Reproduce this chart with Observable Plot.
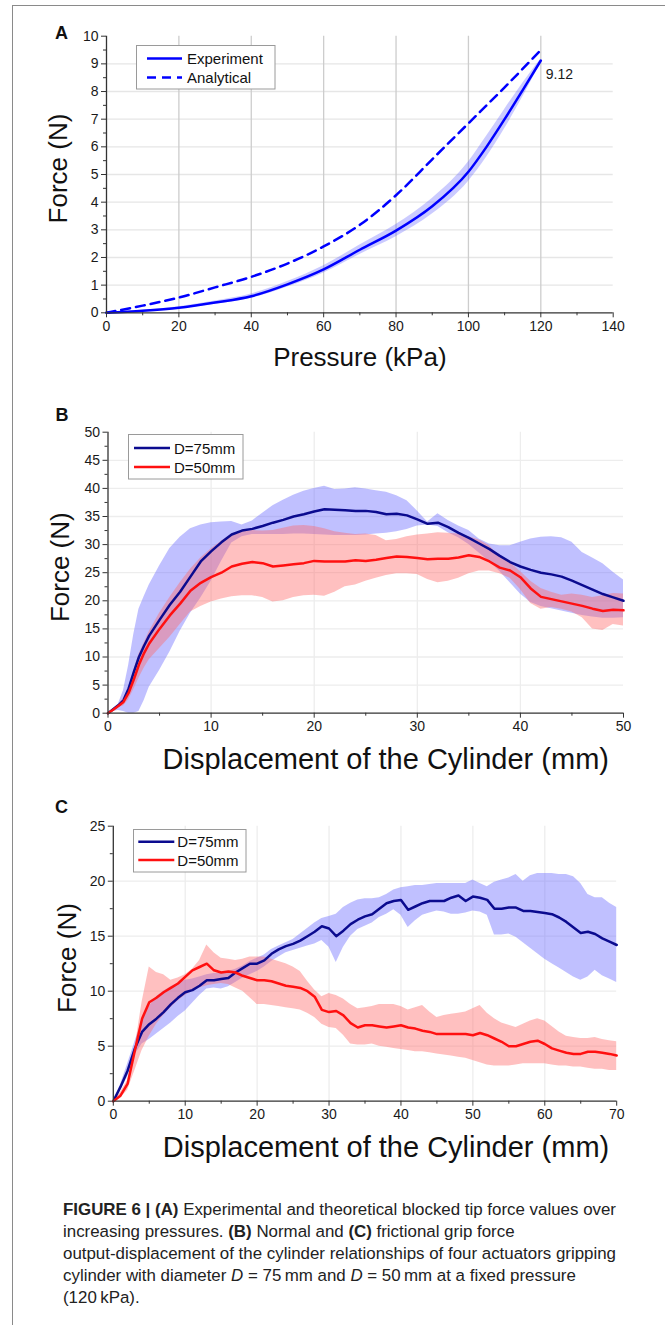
<!DOCTYPE html>
<html><head><meta charset="utf-8">
<script src="https://cdn.jsdelivr.net/npm/d3@7"></script>
<script src="https://cdn.jsdelivr.net/npm/@observablehq/plot@0.6"></script>
<style>
body{margin:0;background:#fff;}
#fig{position:relative;width:665px;height:1325px;overflow:hidden;background:#fff;font-family:"Liberation Sans",Arial,sans-serif;}
.panel{position:absolute;left:0;}
.frame{position:absolute;left:12px;top:5px;width:800px;height:1500px;border-left:1.5px solid #8a8a8a;border-top:1.5px solid #8a8a8a;}
.legend{position:absolute;}
#cap{position:absolute;left:63px;top:1199px;font-size:16.9px;line-height:22px;color:#222;white-space:nowrap;font-family:"Liberation Sans",Arial,sans-serif;}
</style></head>
<body>
<div id="fig">
  <div class="frame"></div>
  <div id="pA" class="panel" style="top:0"></div>
  <div id="pB" class="panel" style="top:380px"></div>
  <div id="pC" class="panel" style="top:790px"></div>

  <svg class="legend" style="left:136px;top:44.7px" width="140" height="45">
    <rect x="0.5" y="0.5" width="138.5" height="43.5" fill="#fff" stroke="#9a9a9a"/>
    <line x1="11" x2="46" y1="13.5" y2="13.5" stroke="#0000ff" stroke-width="2.5"/>
    <text x="51" y="13.5" dominant-baseline="central" font-size="15" fill="#111">Experiment</text>
    <line x1="11" x2="46" y1="32.5" y2="32.5" stroke="#0000ff" stroke-width="2.5" stroke-dasharray="9,6"/>
    <text x="51" y="32.5" dominant-baseline="central" font-size="15" fill="#111">Analytical</text>
  </svg>
  <svg class="legend" style="left:128px;top:434px" width="116" height="46">
    <rect x="0.5" y="0.5" width="114.5" height="44.5" fill="#fff" stroke="#9a9a9a"/>
    <line x1="6" x2="42" y1="14" y2="14" stroke="#0b0b8f" stroke-width="2.5"/>
    <text x="46" y="14" dominant-baseline="central" font-size="15" fill="#111">D=75mm</text>
    <line x1="6" x2="42" y1="33" y2="33" stroke="#ff1010" stroke-width="2.5"/>
    <text x="46" y="33" dominant-baseline="central" font-size="15" fill="#111">D=50mm</text>
  </svg>
  <svg class="legend" style="left:132.7px;top:829px" width="114" height="44">
    <rect x="0.5" y="0.5" width="112.5" height="42.5" fill="#fff" stroke="#9a9a9a"/>
    <line x1="5.3" x2="41.3" y1="12.7" y2="12.7" stroke="#0b0b8f" stroke-width="2.5"/>
    <text x="44.3" y="12.7" dominant-baseline="central" font-size="15" fill="#111">D=75mm</text>
    <line x1="5.3" x2="41.3" y1="31" y2="31" stroke="#ff1010" stroke-width="2.5"/>
    <text x="44.3" y="31" dominant-baseline="central" font-size="15" fill="#111">D=50mm</text>
  </svg>

  <div id="cap">
<b>FIGURE 6 | (A)</b> Experimental and theoretical blocked tip force values over<br>
increasing pressures. <b>(B)</b> Normal and <b>(C)</b> frictional grip force<br>
output-displacement of the cylinder relationships of four actuators gripping<br>
cylinder with diameter <i>D</i> = 75&#8201;mm and <i>D</i> = 50&#8201;mm at a fixed pressure<br>
(120&#8201;kPa).
  </div>
</div>
<script>
// ---------- Panel A data ----------
const pressure   = [0,10,20,30,40,50,60,70,80,90,100,105,110,115,120];
const experiment = [0,0.07,0.18,0.37,0.6,1.03,1.57,2.28,2.97,3.85,5.1,6.0,7.0,8.05,9.12];
const expLo      = [0,0.05,0.14,0.31,0.52,0.93,1.44,2.11,2.75,3.57,4.75,5.62,6.65,7.8,9.06];
const expHi      = [0,0.09,0.22,0.43,0.68,1.13,1.70,2.45,3.19,4.13,5.45,6.38,7.35,8.3,9.18];
const pressureAn = [0,10,20,30,40,50,60,70,80,90,100,110,120];
const analytical = [0,0.26,0.55,0.92,1.3,1.78,2.4,3.18,4.25,5.55,6.85,8.15,9.5];
const peakLabel  = [[120, 9.12]];

// ---------- Panel B data (normal grip force) ----------
const bX = [0,0.5,1,1.5,2,2.5,3,3.5,
  4,5,6,7,8,9,10,11,12,13,14,15,16,17,18,19,20,21,22,23,24,25,26,27,28,29,30,31,32,33,34,35,36,37,38,39,40,41,42,43,44,45,46,47,48,49,50];
const bBlue = [0,0.7,1.4,2.3,4.4,7.3,10.0,12.0,
  13.8,16.6,19.3,21.6,24.3,27.0,28.8,30.4,31.8,32.5,
  32.8,33.3,33.9,34.4,35.0,35.4,35.9,36.3,36.2,36.1,
  36.0,36.0,35.8,35.4,35.5,35.2,34.5,33.7,33.9,33.1,
  32.1,31.2,30.2,29.2,28.0,26.9,26.1,25.5,25.0,24.7,
  24.3,23.6,22.8,22.0,21.2,20.6,20.0];
const bBlueHi = [0,0.8,1.6,4.0,8.5,14.0,18.5,20.7,
  22.8,26.2,29.3,31.3,32.8,33.5,33.9,34.0,34.1,33.5,
  34.2,35.6,36.9,37.9,38.8,39.5,40.0,40.4,39.8,39.9,
  40.1,39.9,39.6,39.3,38.7,37.8,36.0,34.0,35.5,34.3,
  33.3,32.5,31.0,30.1,29.8,29.8,30.4,31.0,31.3,31.4,
  31.2,30.4,28.6,27.6,26.6,25.1,23.7];
const bBlueLo = [0,0.3,0.5,0.3,0,0,0.3,2.2,
  4.6,7.6,10.9,14.6,17.8,20.5,23.5,27.0,30.3,31.4,
  31.8,31.8,31.8,31.8,31.9,31.9,31.8,31.7,31.6,31.6,
  31.6,31.7,31.9,32.0,32.3,32.7,33.3,33.5,33.2,32.1,
  31.2,30.0,28.5,27.0,25.2,23.2,21.2,19.7,19.0,18.6,
  18.2,17.8,17.4,17.1,16.9,16.9,17.0];
const bRed = [0,0.6,1.3,2.0,3.6,6.0,8.6,10.7,
  12.4,15.0,17.4,19.5,21.8,23.2,24.2,25.0,26.1,26.6,
  26.9,26.7,26.1,26.3,26.5,26.7,27.1,27.0,27.0,27.0,
  27.2,27.1,27.3,27.6,27.9,27.8,27.6,27.4,27.5,27.5,
  27.7,28.1,27.8,27.0,25.9,25.4,24.2,22.2,20.7,20.3,
  19.9,19.5,19.1,18.6,18.2,18.4,18.3];
const bRedHi = [0,0.7,1.5,2.6,4.5,7.5,10.5,12.5,
  14.5,17.8,20.6,23.2,25.6,27.6,29.2,30.6,31.8,32.3,
  32.5,32.4,32.5,32.9,33.3,33.4,33.2,32.8,32.3,32.0,
  31.8,31.9,31.6,30.7,30.9,31.4,31.7,31.9,32.1,32.0,
  31.9,31.4,30.8,29.8,27.8,26.8,25.2,23.5,22.2,21.5,
  21.0,21.2,21.0,20.6,20.9,21.3,21.2];
const bRedLo = [0,0.4,1.0,1.3,2.4,4.2,6.2,8.0,
  9.5,11.5,13.5,15.8,18.0,19.0,19.8,20.3,20.7,20.9,
  20.9,20.6,19.8,20.0,20.6,20.9,21.0,20.8,21.5,22.5,
  22.8,23.5,24.0,24.5,24.8,24.8,24.7,23.8,23.2,23.5,
  24.0,24.8,25.3,25.3,24.8,24.0,22.0,19.5,18.5,18.8,
  18.5,18.0,17.0,15.0,14.7,15.8,15.5];

// ---------- Panel C data (frictional grip force) ----------
const cX = d3.range(0, 71);
const cBlue = [0,1.3,2.8,4.8,6.3,7.0,7.5,8.1,8.8,9.4,
  9.9,10.1,10.5,11.0,11.0,11.1,11.2,11.7,12.1,12.5,
  12.5,12.8,13.4,13.8,14.1,14.3,14.6,15.0,15.4,15.9,
  15.7,15.0,15.5,16.1,16.5,16.8,17.0,17.5,18.0,18.2,
  18.3,17.4,17.7,18.0,18.2,18.2,18.2,18.5,18.7,18.2,
  18.6,18.5,18.3,17.5,17.5,17.6,17.6,17.3,17.3,17.2,
  17.1,17.0,16.7,16.3,15.8,15.3,15.4,15.2,14.8,14.5,
  14.2];
const cBlueHi = [0,1.5,3.4,5.4,7.3,8.6,9.5,10.0,10.4,10.7,
  11.0,11.1,11.3,11.5,11.6,11.6,11.8,12.0,12.3,12.7,
  13.0,13.3,13.8,14.1,14.4,14.7,15.2,15.7,16.2,16.6,
  16.8,17.0,17.6,18.0,18.3,18.4,18.4,18.5,18.8,19.2,
  19.4,19.5,19.6,19.6,19.7,19.8,19.8,19.8,19.8,19.8,
  20.1,19.8,19.5,19.9,20.1,20.3,20.6,20.0,20.5,20.7,
  20.7,20.7,20.6,20.6,20.4,19.8,18.8,18.5,18.5,18.0,
  17.6];
const cBlueLo = [0,1.0,2.2,4.2,5.2,5.6,6.1,6.6,7.1,7.7,
  8.2,8.9,9.6,10.2,10.3,10.2,10.4,10.8,11.2,11.5,
  11.8,12.2,12.7,13.1,13.5,13.7,13.9,14.1,14.3,14.6,
  14.0,12.6,14.0,15.0,15.6,15.9,16.2,16.7,17.0,17.4,
  16.9,15.8,16.4,16.9,17.1,17.3,17.2,17.0,17.0,17.1,
  17.3,17.2,16.9,15.1,15.1,15.2,14.9,14.4,13.9,13.4,
  12.9,12.5,12.1,11.7,11.3,11.0,11.3,11.9,11.4,11.1,
  10.8];
const cRed = [0,0.5,1.6,4.6,7.5,9.0,9.4,9.9,10.3,10.7,
  11.3,11.9,12.2,12.5,11.9,11.7,11.8,11.7,11.4,11.2,
  11.0,11.0,10.9,10.7,10.5,10.4,10.3,10.0,9.5,8.3,
  8.1,8.2,7.8,7.1,6.7,6.9,6.9,6.8,6.7,6.8,
  6.9,6.7,6.6,6.4,6.3,6.1,6.1,6.1,6.1,6.1,
  6.0,6.2,6.0,5.7,5.4,5.0,5.0,5.2,5.4,5.5,
  5.2,4.8,4.6,4.4,4.3,4.3,4.5,4.5,4.4,4.3,
  4.15];
const cRedHi = [0,0.8,1.9,4.8,9.0,12.2,11.7,11.5,11.0,11.2,
  11.5,12.0,12.8,14.2,13.5,13.0,12.9,12.8,12.9,13.1,
  13.1,13.1,12.9,12.7,12.5,12.2,11.8,10.9,10.1,9.5,
  9.8,9.6,9.3,8.8,8.4,8.5,8.6,8.8,8.8,8.8,
  8.6,8.3,8.5,8.7,8.1,7.6,7.8,7.9,8.0,8.1,
  8.4,8.7,8.0,7.5,7.1,6.9,6.7,7.0,7.3,7.5,
  7.3,6.8,6.3,5.9,5.8,5.7,5.7,5.8,5.6,5.5,
  5.4];
const cRedLo = [0,0.3,1.0,2.8,4.6,5.9,7.0,7.8,8.5,9.1,
  9.6,10.0,10.3,10.5,10.6,10.7,10.6,10.3,10.0,9.4,
  8.8,8.8,8.7,8.6,8.5,8.4,8.3,8.0,7.6,7.0,
  6.7,6.6,6.0,5.2,5.1,5.1,5.2,5.0,4.9,4.8,
  4.7,4.6,4.5,4.5,4.4,4.3,4.2,4.1,4.0,3.9,
  3.7,3.5,3.3,3.2,3.2,3.2,3.3,3.4,3.4,3.4,
  3.4,3.3,3.2,3.2,3.1,3.1,3.0,2.9,2.9,2.8,
  2.8];

// ---------- helpers ----------
const FONT = '"Liberation Sans", Arial, sans-serif';
const rows = (xs, ...cols) => xs.map((x, i) => ({x, v: cols.map(c => c[i])}));

function axisMarks({xMajor, xMinor, yMajor, yMinor}) {
  return [
    Plot.axisX({ticks: xMajor, tickSize: 5, tickPadding: 3, label: null, stroke: "#333", fill: "#1a1a1a"}),
    Plot.axisX({ticks: xMinor, tickSize: 3, tickFormat: () => "", label: null, stroke: "#333"}),
    Plot.axisY({ticks: yMajor, tickSize: 5, tickPadding: 3, label: null, stroke: "#333", fill: "#1a1a1a"}),
    Plot.axisY({ticks: yMinor, tickSize: 3, tickFormat: () => "", label: null, stroke: "#333"}),
    Plot.ruleX([0], {stroke: "#333", strokeWidth: 1.3}),
    Plot.ruleY([0], {stroke: "#333", strokeWidth: 1.3})
  ];
}
const title = (t, o) => Plot.text([t], {text: d => d, fill: "#111", lineAnchor: "middle", textAnchor: "middle", ...o});
const style = {fontFamily: FONT, fontSize: "14px", color: "#1a1a1a", background: "transparent", overflow: "visible"};

// ---------- Panel A ----------
const aExp = rows(pressure, experiment, expLo, expHi);
const aAn = rows(pressureAn, analytical);
const plotA = Plot.plot({
  width: 665, height: 380,
  marginLeft: 106, marginRight: 52.3, marginTop: 35.7, marginBottom: 67.7,
  x: {domain: [0, 140], label: null},
  y: {domain: [0, 10], label: null},
  style,
  marks: [
    Plot.ruleY(d3.range(1, 10), {stroke: "#e6e6e6", strokeWidth: 1.3}),
    Plot.ruleX(d3.range(20, 121, 20), {stroke: "#cdcdcd", strokeWidth: 1.3}),
    Plot.areaY(aExp, {x: "x", y1: d => d.v[1], y2: d => d.v[2], fill: "#4646ff", fillOpacity: 0.28, curve: "monotone-x"}),
    Plot.lineY(aAn, {x: "x", y: d => d.v[0], stroke: "#0000ff", strokeWidth: 2.5, strokeDasharray: "9,6", curve: "monotone-x"}),
    Plot.lineY(aExp, {x: "x", y: d => d.v[0], stroke: "#0000ff", strokeWidth: 2.5, curve: "monotone-x"}),
    Plot.text(peakLabel, {x: d => d[0], y: d => d[1], text: d => d[1].toFixed(2), dx: 5, dy: 14, textAnchor: "start", fontSize: 14, fill: "#1a1a1a"}),
    ...axisMarks({xMajor: d3.range(0, 141, 20), xMinor: d3.range(10, 140, 20), yMajor: d3.range(0, 11), yMinor: d3.range(0.5, 10, 1)}),
    title("Pressure (kPa)", {frameAnchor: "bottom", dy: 44.5, fontSize: 26}),
    title("Force (N)", {frameAnchor: "left", rotate: -90, dx: -47.5, dy: -6, fontSize: 26}),
    title("A", {frameAnchor: "top-left", dx: -45, dy: -3, fontSize: 18, fontWeight: "bold"})
  ]
});
document.getElementById("pA").append(plotA);

// ---------- Panel B ----------
const bBlueRows = rows(bX, bBlue, bBlueLo, bBlueHi);
const bRedRows = rows(bX, bRed, bRedLo, bRedHi);
const plotB = Plot.plot({
  width: 665, height: 410,
  marginLeft: 107.5, marginRight: 42, marginTop: 51.7, marginBottom: 77.3,
  x: {domain: [0, 50], label: null},
  y: {domain: [0, 50], label: null},
  style,
  marks: [
    Plot.ruleY(d3.range(5, 50, 5), {stroke: "#ededed", strokeWidth: 1.3}),
    Plot.ruleX(d3.range(10, 50, 10), {stroke: "#ededed", strokeWidth: 1.3}),
    Plot.areaY(bBlueRows, {x: "x", y1: d => d.v[1], y2: d => d.v[2], fill: "#6a6aff", fillOpacity: 0.42}),
    Plot.areaY(bRedRows, {x: "x", y1: d => d.v[1], y2: d => d.v[2], fill: "#ff6a6a", fillOpacity: 0.42}),
    Plot.lineY(bBlueRows, {x: "x", y: d => d.v[0], stroke: "#0b0b8f", strokeWidth: 2.5}),
    Plot.lineY(bRedRows, {x: "x", y: d => d.v[0], stroke: "#ff1010", strokeWidth: 2.5}),
    ...axisMarks({xMajor: d3.range(0, 51, 10), xMinor: d3.range(5, 50, 10), yMajor: d3.range(0, 51, 5), yMinor: d3.range(2.5, 50, 5)}),
    title("Displacement of the Cylinder (mm)", {frameAnchor: "bottom", dx: 20, dy: 46.3, fontSize: 29}),
    title("Force (N)", {frameAnchor: "left", rotate: -90, dx: -47, dy: -5.5, fontSize: 26}),
    title("B", {frameAnchor: "top-left", dx: -46, dy: -16.7, fontSize: 18, fontWeight: "bold"})
  ]
});
document.getElementById("pB").append(plotB);

// ---------- Panel C ----------
const cBlueRows = rows(cX, cBlue, cBlueLo, cBlueHi);
const cRedRows = rows(cX, cRed, cRedLo, cRedHi);
const plotC = Plot.plot({
  width: 665, height: 400,
  marginLeft: 112.8, marginRight: 48.8, marginTop: 35.7, marginBottom: 89.3,
  x: {domain: [0, 70], label: null},
  y: {domain: [0, 25], label: null},
  style,
  marks: [
    Plot.ruleY(d3.range(5, 25, 5), {stroke: "#ededed", strokeWidth: 1.3}),
    Plot.ruleX(d3.range(10, 70, 10), {stroke: "#ededed", strokeWidth: 1.3}),
    Plot.areaY(cBlueRows, {x: "x", y1: d => d.v[1], y2: d => d.v[2], fill: "#6a6aff", fillOpacity: 0.42}),
    Plot.areaY(cRedRows, {x: "x", y1: d => d.v[1], y2: d => d.v[2], fill: "#ff6a6a", fillOpacity: 0.42}),
    Plot.lineY(cBlueRows, {x: "x", y: d => d.v[0], stroke: "#0b0b8f", strokeWidth: 2.5}),
    Plot.lineY(cRedRows, {x: "x", y: d => d.v[0], stroke: "#ff1010", strokeWidth: 2.5}),
    ...axisMarks({xMajor: d3.range(0, 71, 10), xMinor: d3.range(5, 70, 10), yMajor: d3.range(0, 26, 5), yMinor: d3.range(2.5, 25, 5)}),
    title("Displacement of the Cylinder (mm)", {frameAnchor: "bottom", dx: 21, dy: 46.3, fontSize: 29}),
    title("Force (N)", {frameAnchor: "left", rotate: -90, dx: -46, dy: -5.7, fontSize: 26}),
    title("C", {frameAnchor: "top-left", dx: -51.8, dy: -18.7, fontSize: 18, fontWeight: "bold"})
  ]
});
document.getElementById("pC").append(plotC);
</script>
</body></html>
